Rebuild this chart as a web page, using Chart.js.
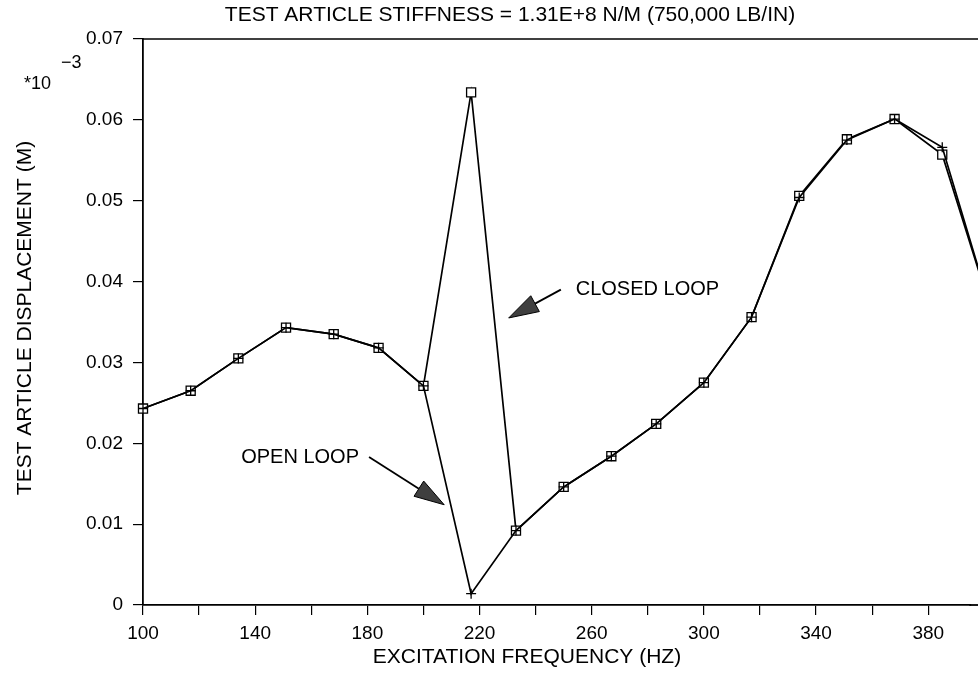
<!DOCTYPE html>
<html>
<head>
<meta charset="utf-8">
<script src="https://cdn.jsdelivr.net/npm/chart.js@4.4.0/dist/chart.umd.min.js"></script>
<style>
  html, body { margin: 0; padding: 0; background: #fff; }
  #wrap { width: 978px; height: 689px; position: relative; }
</style>
</head>
<body>
<div id="wrap"><canvas id="chart"></canvas></div>
<script>
// Frequencies (Hz) of the measured points
var frequencies = [100, 117, 134, 151, 168, 184, 200, 217, 233, 250, 267, 283, 300, 317, 334, 351, 368, 385, 402];

// Displacement values (M, plotted in units of 1e-3 as on the original)
var closedLoop = [0.0243, 0.0265, 0.0305, 0.0343, 0.0335, 0.0318, 0.0271, 0.0634, 0.0092, 0.0146, 0.0184, 0.0224, 0.0275, 0.0356, 0.0506, 0.0576, 0.0601, 0.0557, 0.0369];
var openLoop = [0.0243, 0.0265, 0.0305, 0.0343, 0.0335, 0.0318, 0.0271, 0.0014, 0.0092, 0.0146, 0.0184, 0.0224, 0.0275, 0.0356, 0.0504, 0.0575, 0.0601, 0.0566, 0.0369];

var xTicks = [100, 140, 180, 220, 260, 300, 340, 380];
var yTicks = [0, 0.01, 0.02, 0.03, 0.04, 0.05, 0.06, 0.07];

var FONT = '"Liberation Sans", Arial, Helvetica, sans-serif';
Chart.defaults.font.family = FONT;
Chart.defaults.color = '#000';

function toPoints(values) {
  return values.map(function (v, i) { return { x: frequencies[i], y: v }; });
}

// annotation labels with arrows, placed in data units
var notes = [
  { text: 'OPEN LOOP', at: [135, 0.0182], from: [180.6, 0.0183], to: [207.4, 0.0124] },
  { text: 'CLOSED LOOP', at: [254.3, 0.0390], from: [249, 0.0390], to: [230.4, 0.0355] }
];

var decorations = {
  id: 'decorations',
  afterDraw: function (chart) {
    var ctx = chart.ctx;
    var area = chart.chartArea;
    var xs = chart.scales.x, ys = chart.scales.y;
    ctx.save();

    // top frame line, and the x axis carried on to the cut edge
    ctx.strokeStyle = '#000';
    ctx.lineWidth = 1.5;
    ctx.beginPath();
    ctx.moveTo(area.left, area.top);
    ctx.lineTo(chart.width, area.top);
    ctx.stroke();
    ctx.lineWidth = 1.8;
    ctx.beginPath();
    ctx.moveTo(area.right - 1, area.bottom);
    ctx.lineTo(chart.width, area.bottom);
    ctx.stroke();

    ctx.fillStyle = '#000';
    ctx.textBaseline = 'middle';

    // title
    ctx.font = '21px ' + FONT;
    ctx.textAlign = 'center';
    ctx.fillText('TEST ARTICLE STIFFNESS = 1.31E+8 N/M (750,000 LB/IN)', 510, 15);

    // x axis title
    ctx.fillText('EXCITATION FREQUENCY (HZ)', 527, 657);

    // y axis title
    ctx.save();
    ctx.translate(25, 318);
    ctx.rotate(-Math.PI / 2);
    ctx.fillText('TEST ARTICLE DISPLACEMENT (M)', 0, 0);
    ctx.restore();

    // multiplier
    ctx.textAlign = 'left';
    ctx.font = '18px ' + FONT;
    ctx.fillText('*10', 24, 84);
    ctx.fillText('\u22123', 61, 63);

    // annotations
    notes.forEach(function (n) {
      ctx.font = '20px ' + FONT;
      ctx.textAlign = 'left';
      ctx.fillText(n.text, xs.getPixelForValue(n.at[0]), ys.getPixelForValue(n.at[1]));

      var x1 = xs.getPixelForValue(n.from[0]), y1 = ys.getPixelForValue(n.from[1]);
      var x2 = xs.getPixelForValue(n.to[0]), y2 = ys.getPixelForValue(n.to[1]);
      var dx = x2 - x1, dy = y2 - y1;
      var len = Math.sqrt(dx * dx + dy * dy);
      var ux = dx / len, uy = dy / len;
      var headLen = 30, headW = 9;
      var bx = x2 - ux * headLen, by = y2 - uy * headLen;

      ctx.lineWidth = 1.8;
      ctx.beginPath();
      ctx.moveTo(x1, y1);
      ctx.lineTo(bx, by);
      ctx.stroke();

      ctx.fillStyle = '#3f3f3f';
      ctx.beginPath();
      ctx.moveTo(x2, y2);
      ctx.lineTo(bx - uy * headW, by + ux * headW);
      ctx.lineTo(bx + uy * headW, by - ux * headW);
      ctx.closePath();
      ctx.fill();
      ctx.lineWidth = 1;
      ctx.stroke();
      ctx.fillStyle = '#000';
    });

    ctx.restore();
  }
};

var chart = new Chart(document.getElementById('chart'), {
  type: 'line',
  data: {
    datasets: [{
      label: 'OPEN LOOP',
      data: toPoints(openLoop),
      borderColor: '#000',
      borderWidth: 1.7,
      pointStyle: 'cross',
      pointRadius: 5,
      pointBorderColor: '#000',
      pointBorderWidth: 1.3,
      tension: 0,
      clip: 12,
      order: 1
    }, {
      label: 'CLOSED LOOP',
      data: toPoints(closedLoop),
      borderColor: '#000',
      borderWidth: 1.7,
      pointStyle: 'rect',
      pointRadius: 6.4,
      pointBackgroundColor: '#fff',
      pointBorderColor: '#000',
      pointBorderWidth: 1.3,
      tension: 0,
      clip: 12,
      order: 2
    }]
  },
  options: {
    responsive: true,
    maintainAspectRatio: false,
    animation: false,
    layout: { padding: { top: 39, left: 0, right: 0, bottom: 0 } },
    plugins: {
      legend: { display: false },
      title: { display: false },
      tooltip: { enabled: false }
    },
    scales: {
      x: {
        type: 'linear',
        min: 100,
        max: 395,
        afterFit: function (s) { s.height = 84; },
        border: { display: true, color: '#000', width: 1.8 },
        grid: { display: true, drawOnChartArea: false, drawTicks: true, tickLength: 10, color: '#000', lineWidth: 1.2 },
        ticks: {
          stepSize: 20,
          includeBounds: false,
          autoSkip: false,
          maxRotation: 0,
          padding: 7,
          color: '#000',
          font: { size: 19 },
          callback: function (v) { return xTicks.indexOf(v) >= 0 ? String(v) : ''; }
        }
      },
      y: {
        min: 0,
        max: 0.07,
        afterFit: function (s) { s.width = 143; },
        border: { display: true, color: '#000', width: 1.8 },
        grid: { display: true, drawOnChartArea: false, drawTicks: true, tickLength: 10, color: '#000', lineWidth: 1.2 },
        ticks: {
          stepSize: 0.01,
          padding: 10,
          color: '#000',
          font: { size: 19 },
          callback: function (v) {
            var r = Math.round(v * 100) / 100;
            var idx = yTicks.indexOf(r);
            if (idx < 0) return '';
            return r === 0 ? '0' : r.toFixed(2);
          }
        }
      }
    }
  },
  plugins: [decorations]
});
</script>
</body>
</html>
